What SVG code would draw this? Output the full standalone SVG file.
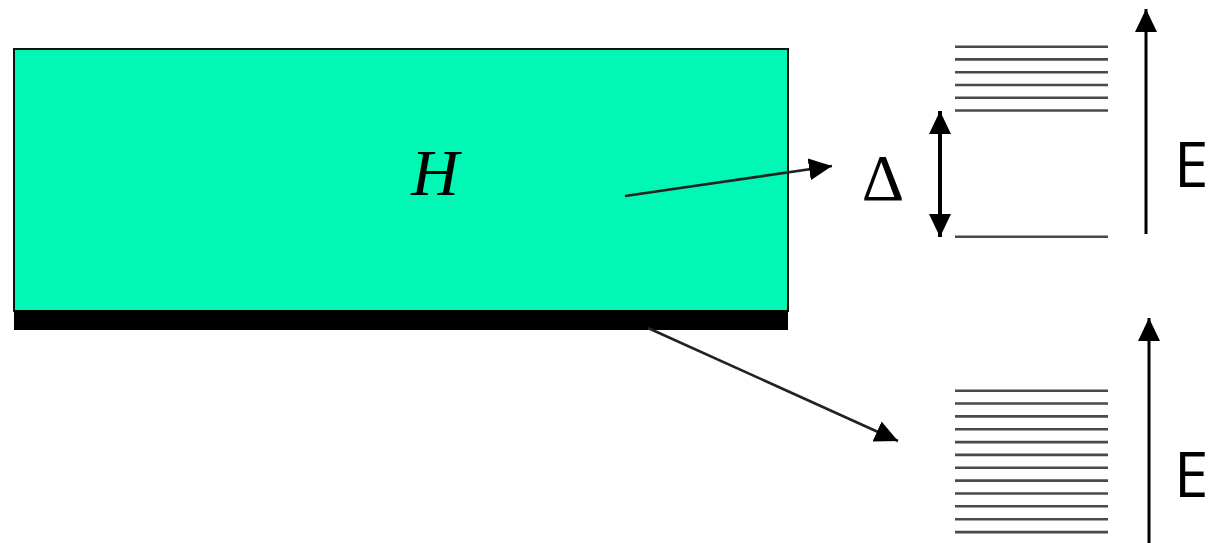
<svg xmlns="http://www.w3.org/2000/svg" width="1209" height="543" viewBox="0 0 1209 543">
<style>
.lvl{stroke:#4a4a4a;stroke-width:2.6;fill:none}
.conn{stroke:#222;stroke-width:2.6;fill:none}
.axis{stroke:#000;stroke-width:3;fill:none}
.lbl{font-family:"Open Sans","Liberation Sans",sans-serif;font-size:62px;fill:#000}
</style>
<defs>
<marker id="ah" markerUnits="userSpaceOnUse" markerWidth="26" markerHeight="24" refX="23" refY="11" orient="auto" viewBox="0 0 26 24">
<path d="M0,0 L23,11 L0,22 Z" fill="#000"/>
</marker>
<marker id="ahs" markerUnits="userSpaceOnUse" markerWidth="26" markerHeight="24" refX="0" refY="11" orient="auto" viewBox="0 0 26 24">
<path d="M23,0 L0,11 L23,22 Z" fill="#000"/>
</marker>
</defs>
<g id="slab">
<rect x="14" y="49" width="774" height="262" fill="#00F7B4" stroke="#111" stroke-width="2"/>
<rect x="14" y="310" width="774" height="20" fill="#000"/>
<text x="435" y="195" text-anchor="middle" font-family="Liberation Serif,serif" font-style="italic" font-size="66">H</text>
</g>
<g id="connectors">
<line class="conn" x1="625" y1="196" x2="832" y2="166" marker-end="url(#ah)"/>
<line class="conn" x1="648" y1="328" x2="898" y2="441" marker-end="url(#ah)"/>
</g>
<g id="gapped-spectrum">
<line class="lvl" x1="955" y1="46.7" x2="1108" y2="46.7"/>
<line class="lvl" x1="955" y1="59.4" x2="1108" y2="59.4"/>
<line class="lvl" x1="955" y1="72.2" x2="1108" y2="72.2"/>
<line class="lvl" x1="955" y1="85" x2="1108" y2="85"/>
<line class="lvl" x1="955" y1="97.7" x2="1108" y2="97.7"/>
<line class="lvl" x1="955" y1="110.5" x2="1108" y2="110.5"/>
<line class="lvl" x1="955" y1="236.7" x2="1108" y2="236.7"/>
<line stroke="#000" stroke-width="4" x1="940" y1="111" x2="940" y2="237" marker-start="url(#ahs)" marker-end="url(#ah)"/>
<text x="883" y="200" text-anchor="middle" font-family="Liberation Serif,serif" font-size="66">Δ</text>
<line class="axis" x1="1146" y1="234" x2="1146" y2="9" marker-end="url(#ah)"/>
<text class="lbl" x="1174" y="187">E</text>
</g>
<g id="gapless-spectrum">
<line class="lvl" x1="955" y1="390.7" x2="1108" y2="390.7"/>
<line class="lvl" x1="955" y1="403.5" x2="1108" y2="403.5"/>
<line class="lvl" x1="955" y1="416.4" x2="1108" y2="416.4"/>
<line class="lvl" x1="955" y1="429.2" x2="1108" y2="429.2"/>
<line class="lvl" x1="955" y1="442.1" x2="1108" y2="442.1"/>
<line class="lvl" x1="955" y1="454.9" x2="1108" y2="454.9"/>
<line class="lvl" x1="955" y1="467.8" x2="1108" y2="467.8"/>
<line class="lvl" x1="955" y1="480.6" x2="1108" y2="480.6"/>
<line class="lvl" x1="955" y1="493.5" x2="1108" y2="493.5"/>
<line class="lvl" x1="955" y1="506.3" x2="1108" y2="506.3"/>
<line class="lvl" x1="955" y1="519.2" x2="1108" y2="519.2"/>
<line class="lvl" x1="955" y1="532.1" x2="1108" y2="532.1"/>
<line class="axis" x1="1149" y1="543" x2="1149" y2="318" marker-end="url(#ah)"/>
<text class="lbl" x="1174" y="497">E</text>
</g>
</svg>
